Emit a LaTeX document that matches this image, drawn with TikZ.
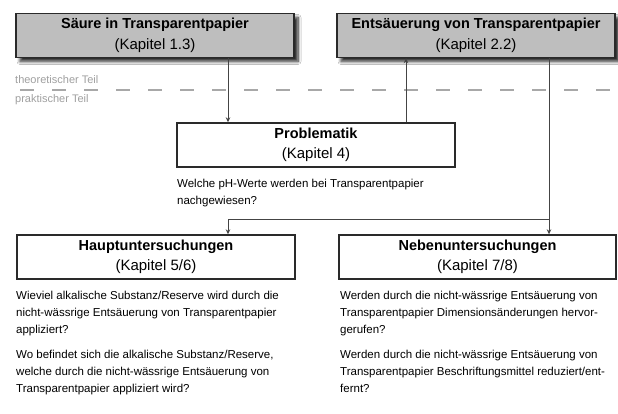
\documentclass[tikz,border=0pt]{standalone}
\usepackage{fontspec}
\setmainfont{Liberation Sans}
\usetikzlibrary{arrows.meta,shadows.blur}
\definecolor{boxgray}{HTML}{BEBEBE}
\definecolor{edgegray}{HTML}{2A2A2A}
\definecolor{linegray}{HTML}{444444}
\definecolor{sepgray}{HTML}{A8A8A8}
\definecolor{labgray}{HTML}{A0A0A0}
\tikzset{
  chapbox/.style={draw=edgegray,line width=1.4pt,minimum height=44pt,inner sep=0pt,
    align=center,font=\fontsize{14.5}{20.5}\selectfont},
  graybox/.style={chapbox,fill=boxgray,
    blur shadow={shadow xshift=4pt,shadow yshift=-4pt,shadow blur radius=3pt,shadow blur steps=8,shadow opacity=85}},
  whitebox/.style={chapbox,fill=white},
  conn/.style={draw=linegray,line width=0.8pt},
  arr/.style={conn,-{Stealth[length=5pt,width=4.5pt]}},
  question/.style={anchor=north west,inner sep=0pt,align=left,
    font=\fontsize{11.5}{17}\selectfont},
  partlabel/.style={anchor=west,inner sep=0pt,text=labgray,font=\fontsize{11}{13}\selectfont},
}
\newcommand{\kap}[1]{{\fontsize{15}{20.5}\selectfont #1}}
\begin{document}
\begin{tikzpicture}[x=1pt,y=-1pt]
\useasboundingbox (0,0) rectangle (618,414);
\fill[white] (0,0) rectangle (618,414);

% separator between theory and practice
\draw[sepgray,line width=2pt,dash pattern=on 14pt off 18pt] (20,90) -- (618,90);
\node[partlabel] (theo) at (15,80) {theoretischer Teil};
\node[partlabel] (prak) at (15,100) {praktischer Teil};

% boxes
\node[graybox,minimum width=278pt] (s1) at (155,35.5) {\textbf{Säure in Transparentpapier}\\\kap{(Kapitel 1.3)}};
\node[graybox,minimum width=278pt] (s2) at (476,35.5) {\textbf{Entsäuerung von Transparentpapier}\\\kap{(Kapitel 2.2)}};
\node[whitebox,minimum width=278pt] (prob) at (316,145) {\textbf{Problematik}\\\kap{(Kapitel 4)}};
\node[whitebox,minimum width=278pt] (haupt) at (156,257) {\textbf{Hauptuntersuchungen}\\\kap{(Kapitel 5/6)}};
\node[whitebox,minimum width=277pt] (neben) at (477.5,257) {\textbf{Nebenuntersuchungen}\\\kap{(Kapitel 7/8)}};

% question texts
\node[question] (qprob) at (177,178.5) {Welche pH-Werte werden bei Transparentpapier\\nachgewiesen?};
\node[question] (qhaupt) at (16,290.5) {Wieviel alkalische Substanz/Reserve wird durch die\\nicht-wässrige Entsäuerung von Transparentpapier\\appliziert?\\[8pt]Wo befindet sich die alkalische Substanz/Reserve,\\welche durch die nicht-wässrige Entsäuerung von\\Transparentpapier appliziert wird?};
\node[question] (qneben) at (340,290.5) {Werden durch die nicht-wässrige Entsäuerung von\\Transparentpapier Dimensionsänderungen hervor-\\gerufen?\\[8pt]Werden durch die nicht-wässrige Entsäuerung von\\Transparentpapier Beschriftungsmittel reduziert/ent-\\fernt?};

% connectors
\coordinate (a1) at (228,0);
\coordinate (a2) at (406,0);
\coordinate (j) at (549,219);
\draw[arr] (s1.south -| a1) -- (prob.north -| a1);
\draw[arr] (prob.north -| a2) -- (s2.south -| a2);
\draw[arr] (s2.south -| j) -- (neben.north -| j);
\draw[arr] (j) -- (j -| a1) -- (haupt.north -| a1);
\end{tikzpicture}
\end{document}
